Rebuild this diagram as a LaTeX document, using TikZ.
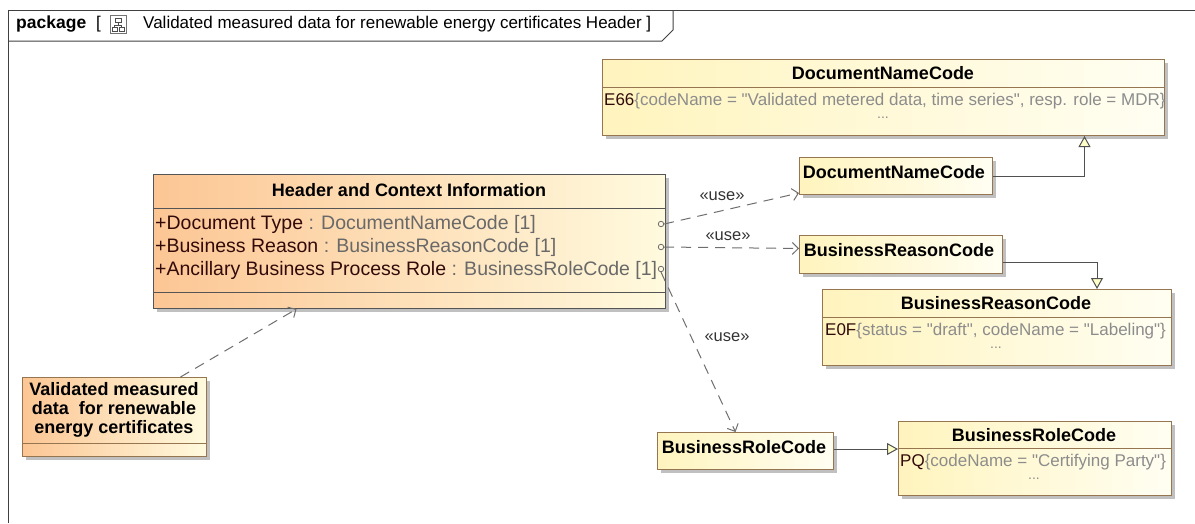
\documentclass[tikz,border=0pt]{standalone}
\usepackage{fontspec}
\setmainfont{Liberation Sans}[Ligatures=TeXOff]
\usetikzlibrary{arrows.meta,shadows}
\definecolor{ylL}{RGB}{255,244,190}
\definecolor{ylR}{RGB}{255,254,242}
\definecolor{orL}{RGB}{252,198,148}
\definecolor{orR}{RGB}{255,250,222}
\definecolor{bxBorder}{RGB}{150,118,80}
\definecolor{hdBorder}{RGB}{85,85,85}
\definecolor{conGray}{RGB}{110,110,110}
\definecolor{genGray}{RGB}{80,80,80}
\definecolor{typeGray}{RGB}{105,105,105}
\definecolor{litGray}{RGB}{140,140,140}
\definecolor{attrDark}{RGB}{50,10,10}
\definecolor{triFill}{RGB}{255,255,200}
\tikzset{
  boxshadow/.style={drop shadow={shadow xshift=3pt,shadow yshift=-3pt,fill=black!45,opacity=0.55}},
  ybox/.style={draw=bxBorder,line width=1pt,left color=ylL,right color=ylR,boxshadow,anchor=north west,inner sep=0,rectangle},
  obox/.style={draw=#1,line width=1pt,left color=orL,right color=orR,boxshadow,anchor=north west,inner sep=0,rectangle},
  ttl/.style={inner sep=0,font=\fontsize{18}{19}\selectfont\bfseries,text=black},
  attr/.style={inner sep=0,anchor=west,font=\fontsize{19.5}{20}\selectfont},
  lit/.style={inner sep=0,anchor=west,font=\fontsize{17}{18}\selectfont},
  dots/.style={inner sep=0,font=\fontsize{14}{15}\selectfont,text=litGray},
  uselbl/.style={inner sep=0,font=\fontsize{16.5}{17}\selectfont,text=black!80},
  usearrow/.style={draw=conGray,line width=1pt,dash pattern=on 10pt off 7pt,-{Straight Barb[length=6pt,width=12pt,line width=1pt]}},
  genarrow/.style={draw=genGray,line width=1pt,-{Triangle[open,length=11pt,width=12pt,fill=triFill,line width=1pt]}},
  port/.style={circle,draw=conGray,line width=0.8pt,minimum size=5.5pt,inner sep=0,fill=none},
  divider/.style={draw=bxBorder,line width=1pt},
  hdiv/.style={draw=hdBorder,line width=1pt},
  framepen/.style={draw=black!75,line width=1pt}
}
\begin{document}
\begin{tikzpicture}[x=1pt,y=-1pt]
\useasboundingbox (0,0) rectangle (1195,523);
% frame
\draw[framepen] (8,523) -- (8,10) -- (1195,10);
\draw[framepen] (8,41) -- (662,41) -- (673,30) -- (673,10);
\node[inner sep=0,anchor=west,font=\fontsize{17.5}{18}\selectfont\bfseries] (pkg) at (16,24) {package};
\node[inner sep=0,anchor=west,font=\fontsize{17}{18}\selectfont] (lbr) at (96,24) {[};
% icon
\draw[draw=black!55,fill=white,line width=0.7pt] (110,15) rectangle (126,33);
\draw[draw=black!70,line width=0.7pt] (115,18) rectangle (121,22);
\draw[draw=black!70,line width=0.7pt] (112,27) rectangle (117,31);
\draw[draw=black!70,line width=0.7pt] (119,27) rectangle (124,31);
\draw[draw=black!70,line width=0.6pt] (118,22) -- (118,25) (114.5,25) -- (121.5,25) (114.5,25) -- (114.5,27) (121.5,25) -- (121.5,27);
\node[inner sep=0,anchor=west,font=\fontsize{17}{18}\selectfont] (pkgname) at (143,24) {Validated measured data for renewable energy certificates Header ]};

% DocumentNameCode enumeration (top)
\node[ybox,minimum width=562pt,minimum height=76pt] (dncT) at (602,59) {};
\draw[divider] (602,87) -- (1164,87);
\node[ttl] (dncTt) at (883,73) {DocumentNameCode};
\node[lit] (dncTl) at (604,101) {\textcolor{attrDark}{E66}\textcolor{litGray}{\{codeName = "Validated metered data, time series", resp. role = MDR\}}};
\node[dots] (dncTd) at (883,118) {...};

% BusinessReasonCode enumeration
\node[ybox,minimum width=349pt,minimum height=76pt] (brcT) at (822,289) {};
\draw[divider] (822,317) -- (1171,317);
\node[ttl] (brcTt) at (996,303) {BusinessReasonCode};
\node[lit] (brcTl) at (825,331) {\textcolor{attrDark}{E0F}\textcolor{litGray}{\{status = "draft", codeName = "Labeling"\}}};
\node[dots] (brcTd) at (996,348) {...};

% BusinessRoleCode enumeration
\node[ybox,minimum width=273pt,minimum height=74pt] (broT) at (898,421) {};
\draw[divider] (898,448) -- (1171,448);
\node[ttl] (broTt) at (1034,435) {BusinessRoleCode};
\node[lit] (broTl) at (900,462) {\textcolor{attrDark}{PQ}\textcolor{litGray}{\{codeName = "Certifying Party"\}}};
\node[dots] (broTd) at (1034,479) {...};

% small classifier boxes
\node[ybox,minimum width=193pt,minimum height=37pt] (dncS) at (799,157) {};
\node[ttl] (dncSt) at (894,172) {DocumentNameCode};
\node[ybox,minimum width=203pt,minimum height=38pt] (brcS) at (799,235) {};
\node[ttl] (brcSt) at (899,250) {BusinessReasonCode};
\node[ybox,minimum width=176pt,minimum height=37pt] (broS) at (657,432) {};
\node[ttl] (broSt) at (744,447) {BusinessRoleCode};

% Header and Context Information
\node[obox=hdBorder,minimum width=512pt,minimum height=134pt] (hdr) at (153,174) {};
\draw[hdiv] (153,208) -- (665,208);
\draw[hdiv] (153,292) -- (665,292);
\node[ttl] (hdrt) at (409,190) {Header and Context Information};
\node[attr] (a1) at (155,224) {\textcolor{attrDark}{+Document Type} \textcolor{typeGray}{: DocumentNameCode [1]}};
\node[attr] (a2) at (155,247) {\textcolor{attrDark}{+Business Reason} \textcolor{typeGray}{: BusinessReasonCode [1]}};
\node[attr] (a3) at (155,270) {\textcolor{attrDark}{+Ancillary Business Process Role} \textcolor{typeGray}{: BusinessRoleCode [1]}};
\node[port] (p1) at (661,224) {};
\node[port] (p2) at (661,247) {};
\node[port] (p3) at (661,269) {};

% Validated measured data box
\node[obox=bxBorder,minimum width=184pt,minimum height=79pt] (val) at (22,377) {};
\draw[divider] (22,443) -- (206,443);
\node[ttl,align=center,font=\fontsize{18}{19}\selectfont\bfseries] (valt) at (114,410) {Validated measured\\data \ for renewable\\energy certificates};

% use dependencies
\draw[usearrow] (p1.east) -- ([yshift=2pt]dncS.south west);
\node[uselbl] (u1) at (722,196) {«use»};
\draw[usearrow] (p2.east) -- ([yshift=6pt]brcS.west);
\node[uselbl] (u2) at (728,236) {«use»};
\draw[usearrow] (p3.south) -- ([xshift=-10pt]broS.north);
\node[uselbl] (u3) at (727,337) {«use»};
\draw[usearrow] ([xshift=66pt]val.north) -- ([xshift=-113pt]hdr.south);

% generalizations
\draw[genarrow] (dncS.east) -| ([xshift=201pt]dncT.south);
\draw[genarrow] ([yshift=-8pt]brcS.east) -| ([xshift=100pt]brcT.north);
\draw[genarrow] ([yshift=2pt]broS.east) -- ([yshift=2pt]broS.east -| broT.west);
\end{tikzpicture}
\end{document}
